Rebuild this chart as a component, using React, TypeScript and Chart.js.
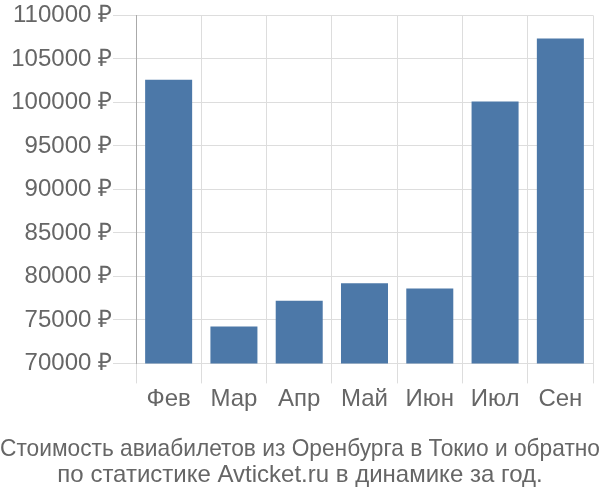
import React, { useEffect, useRef } from "react";
import { Chart, registerables } from "chart.js";

Chart.register(...registerables);

const categories = ["Фев", "Мар", "Апр", "Май", "Июн", "Июл", "Сен"];
const prices = [102600, 74250, 77200, 79200, 78600, 100100, 107350];
const titleLines = [
  "Стоимость авиабилетов из Оренбурга в Токио и обратно",
  "по статистике Avticket.ru в динамике за год.",
];
const yMin = 70000;
const yMax = 110000;
const yStep = 5000;

export default function App() {
  const ref = useRef<HTMLCanvasElement | null>(null);
  useEffect(() => {
    document.body.style.margin = "0";
    if (!ref.current) return;
    const font = "'Liberation Sans', Arial, sans-serif";
    const chart = new Chart(ref.current, {
      type: "bar",
      data: {
        labels: categories,
        datasets: [
          {
            data: prices,
            backgroundColor: "#4c78a8",
            borderWidth: 0,
            barPercentage: 0.72,
            categoryPercentage: 1,
          },
        ],
      },
      options: {
        animation: false,
        responsive: false,
        maintainAspectRatio: false,
        layout: { padding: { left: 0, right: 0, top: 0, bottom: 11 } },
        plugins: {
          legend: { display: false },
          tooltip: { enabled: false },
          title: {
            display: true,
            position: "bottom",
            text: titleLines,
            color: "#666",
            font: { family: font, size: 24, weight: "normal", lineHeight: 1.1 },
            padding: { top: 20, bottom: 0 },
          },
        },
        scales: {
          x: {
            grid: {
              color: "#ddd",
              tickLength: 20,
              offset: true,
            },
            border: { color: "#ddd" },
            ticks: {
              color: "#666",
              font: { family: font, size: 24 },
              padding: 2,
            },
          },
          y: {
            min: yMin,
            max: yMax,
            afterFit: (s) => {
              s.width = 136;
            },
            grid: { color: "#ddd", tickLength: 23 },
            border: { color: "#aaa" },
            ticks: {
              stepSize: yStep,
              color: "#666",
              font: { family: font, size: 24 },
              padding: 1,
              callback: (v) => `${v} ₽`,
            },
          },
          yRightSpace: {
            position: "right",
            display: true,
            afterFit: (s) => {
              s.width = 7;
            },
            grid: { display: false, drawTicks: false },
            border: { display: false },
            ticks: { display: false },
          },
        },
      },
    });
    return () => chart.destroy();
  }, []);
  return (
    <div style={{ width: 600, height: 500 }}>
      <canvas ref={ref} width={600} height={500} />
    </div>
  );
}
